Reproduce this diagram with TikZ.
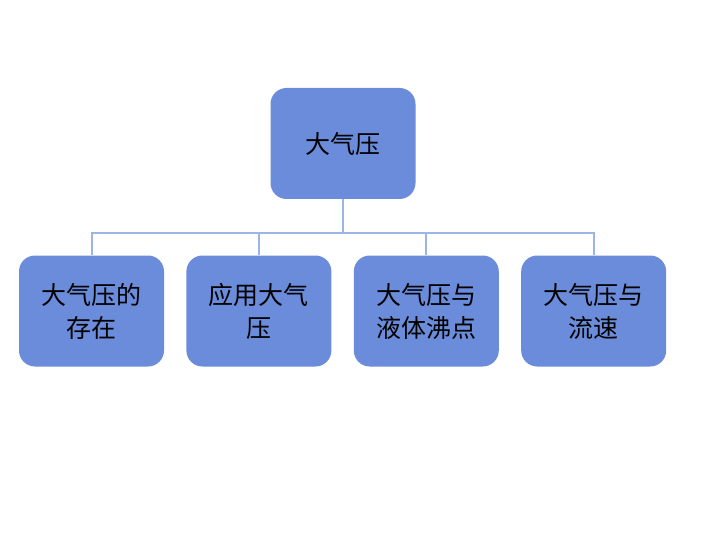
\documentclass[tikz,border=0pt]{standalone}
\usepackage{fontspec}
\newfontfamily\cjk{Noto Sans CJK SC}
\usepackage{xcolor}
\usepackage{tikz}
\usetikzlibrary{positioning}
\definecolor{boxblue}{HTML}{6A8CDA}
\definecolor{linkblue}{HTML}{9CB4E9}

\begin{document}
\begin{tikzpicture}[x=1pt,y=-1pt,node distance=22pt,
  font=\cjk\fontsize{25}{33}\selectfont,
  top/.style={fill=boxblue,rounded corners=16pt,minimum width=145pt,
              minimum height=111pt,inner sep=4pt,align=center,text=black},
  kid/.style={top},
  link/.style={linkblue,line width=2pt}]
\useasboundingbox (0,0) rectangle (720,540);
% wurzel
\node[top] (root) at (343,143.5) {大气压};
% kinder
\node[kid] (k1) at (91.5,311) {大气压的\\存在};
\node[kid,right=of k1] (k2) {应用大气\\压};
\node[kid,right=of k2] (k3) {大气压与\\液体沸点};
\node[kid,right=of k3] (k4) {大气压与\\流速};
% linien
\draw[link] (root.south) -- ++(0,33.5) -| (k1.north);
\draw[link] (root.south) -- ++(0,33.5) -| (k2.north);
\draw[link] (root.south) -- ++(0,33.5) -| (k3.north);
\draw[link] (root.south) -- ++(0,33.5) -| (k4.north);
\end{tikzpicture}
\end{document}
